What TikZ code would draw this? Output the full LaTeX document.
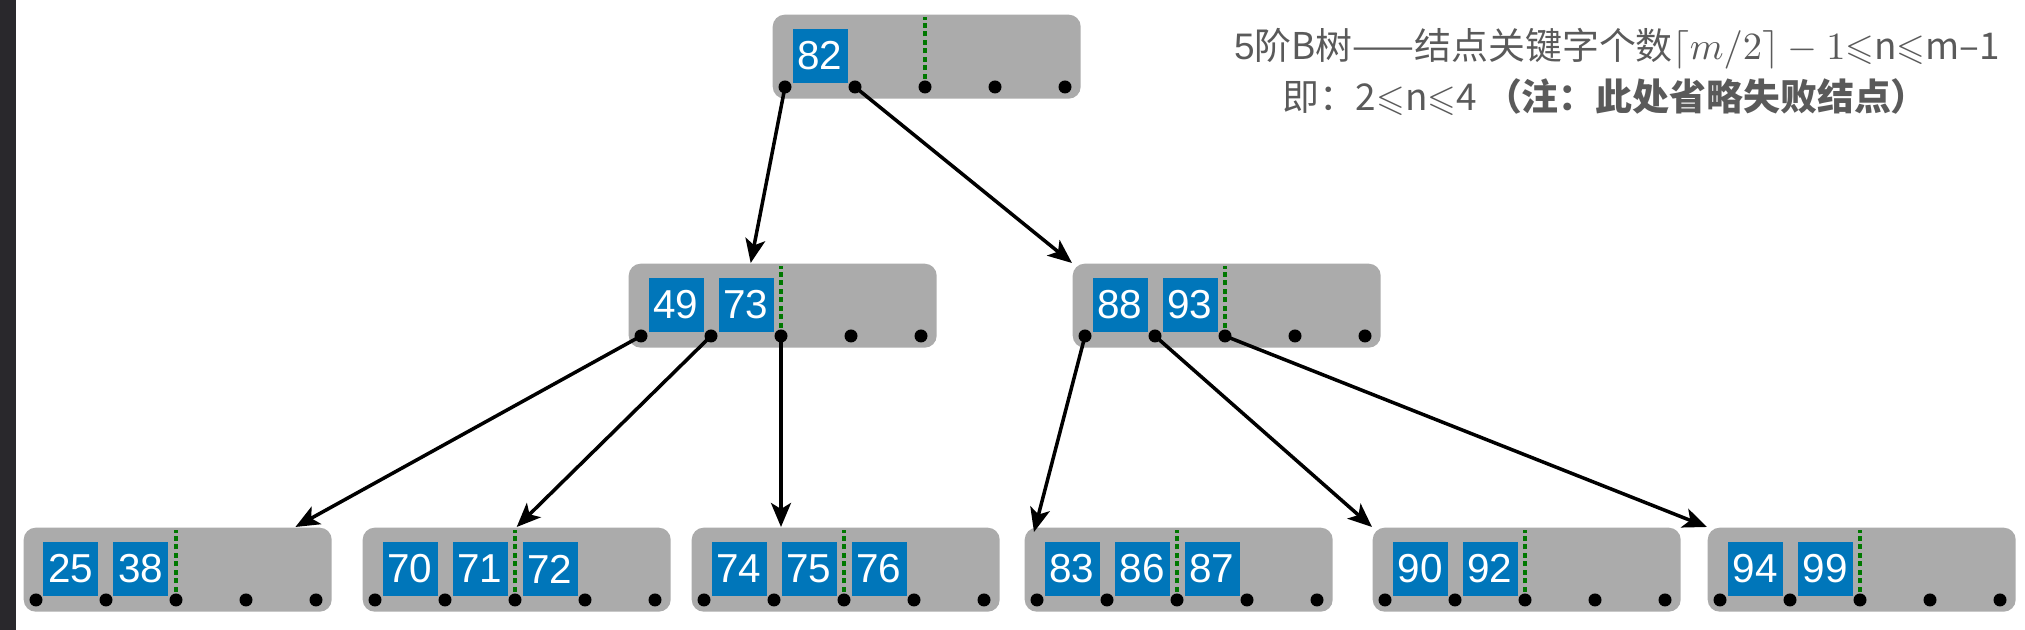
\documentclass[tikz,border=0pt]{standalone}
\usepackage{fontspec}
\usepackage{amssymb}
\setmainfont{Liberation Sans}
\newfontfamily\cjk{Noto Sans CJK SC}
\usetikzlibrary{arrows.meta}
\definecolor{nodegray}{RGB}{171,171,171}
\definecolor{keyblue}{RGB}{0,118,186}
\definecolor{mingreen}{RGB}{0,120,0}
\definecolor{notegray}{RGB}{90,90,90}
\definecolor{sidebar}{RGB}{41,40,44}
\tikzset{
    bnode/.style={fill=nodegray, rounded corners=0.12cm, minimum width=3.08cm, minimum height=0.84cm, inner sep=0pt, anchor=north west},
    keybox/.style={fill=keyblue, text=white, minimum width=0.55cm, minimum height=0.54cm, inner sep=0pt, font=\fontsize{11.5}{13}\selectfont},
    ptr/.style={fill=black},
    minline/.style={mingreen, line width=0.9pt, dash pattern=on 1.4pt off 1pt},
    link/.style={line width=1pt, -{Stealth[length=2.4mm,width=2mm,inset=0.6mm]}},
    note/.style={notegray, font=\fontsize{10.5}{13}\selectfont},
}
\begin{document}
\begin{tikzpicture}
    \useasboundingbox (0,0) rectangle (20.25,6.3);
    % dark strip on the left edge
    \fill[sidebar] (0,0) rectangle (0.16,6.3);

    % B-tree nodes: name/left/top/keys
    \foreach \nm/\x/\y/\keys in {r/7.72/6.16/{82}, ml/6.28/3.67/{49,73}, mr/10.72/3.67/{88,93},
        b1/0.23/1.03/{25,38}, b2/3.62/1.03/{70,71,72}, b3/6.91/1.03/{74,75,76},
        b4/10.24/1.03/{83,86,87}, b5/13.72/1.03/{90,92}, b6/17.07/1.03/{94,99}} {
        \node[bnode] (\nm) at (\x,\y) {};
        \foreach \k in {1,...,5}
            \coordinate (\nm-p\k) at ([xshift={0.13cm+0.7cm*(\k-1)}, yshift=-0.73cm]\nm.north west);
        % minimum number of keys
        \draw[minline] (\nm-p3) -- ++(0,0.7);
        \foreach \v [count=\i] in \keys
            \node[keybox] (\nm-k\i) at ([xshift={0.48cm+0.7cm*(\i-1)}, yshift=-0.42cm]\nm.north west) {\v};
        \foreach \k in {1,...,5}
            \fill[ptr] (\nm-p\k) circle (0.065);
    }

    % pointers
    \draw[link] (r-p1) -- ([xshift=-3.2mm]ml.north);
    \draw[link] (r-p2) -- (mr.north west);
    \draw[link] (ml-p1) -- ([xshift=-3.7mm]b1.north east);
    \draw[link] (ml-p2) -- (b2.north);
    \draw[link] (ml-p3) -- (ml-p3 |- b3.north);
    \draw[link] (mr-p1) -- ([xshift=1mm,yshift=-0.5mm]b4.north west);
    \draw[link] (mr-p2) -- (b5.north west);
    \draw[link] (mr-p3) -- (b6.north west);

    % note
    \node[note] (title) at (16.17,5.81) {5\cjk{阶}B\cjk{树——结点关键字个数}$\lceil m/2\rceil-1$$\leqslant$n$\leqslant$m–1};
    \node[note] (sub) at (16.05,5.33) {\cjk{即：}2$\leqslant$n$\leqslant$4 {\cjk\bfseries （注：此处省略失败结点）}};
\end{tikzpicture}
\end{document}
